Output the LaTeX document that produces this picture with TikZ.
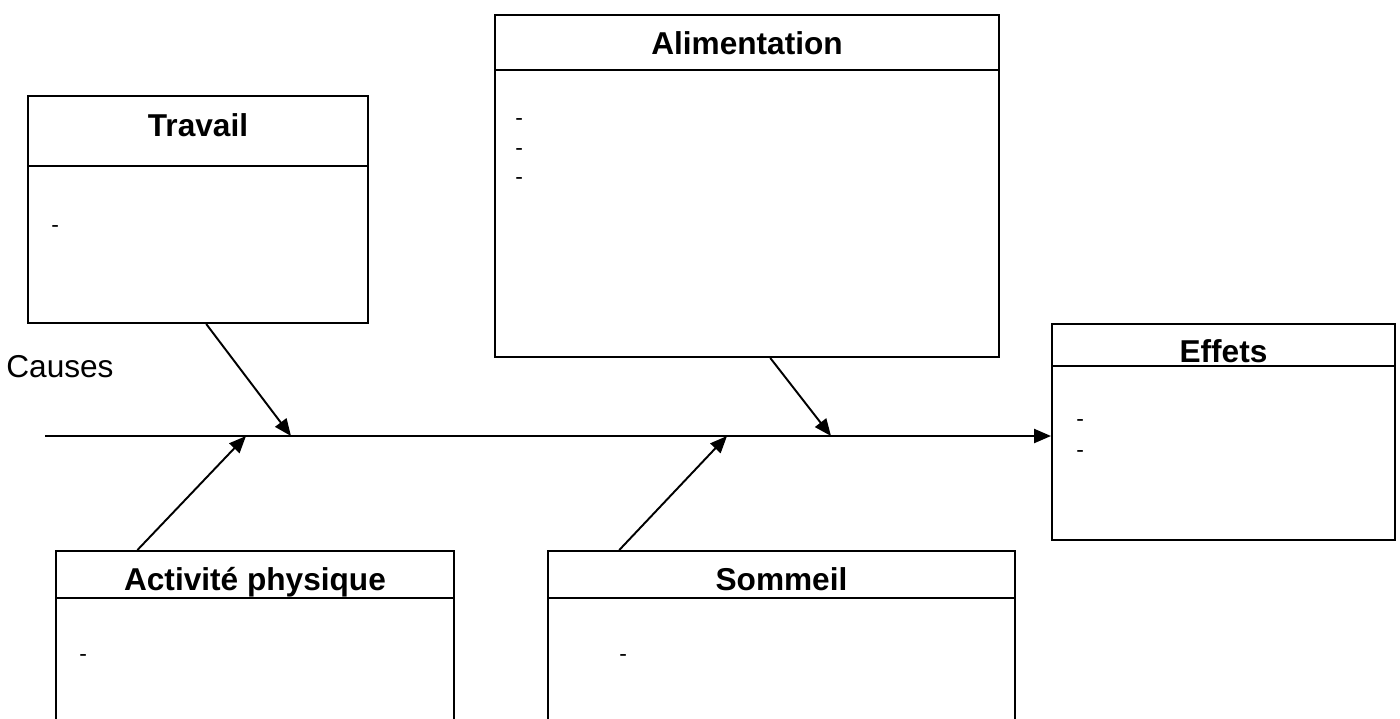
\documentclass[tikz,border=0pt]{standalone}
\usepackage{fontspec}
\setmainfont{Liberation Sans}
\usetikzlibrary{arrows.meta,fit,calc}

\begin{document}
\begin{tikzpicture}[x=0.02cm,y=-0.02cm,
        box/.style={draw, line width=1.1pt, inner sep=0pt},
        title/.style={anchor=base, inner sep=0pt, font=\fontsize{18}{21.6}\selectfont\bfseries},
        item/.style={anchor=base west, inner sep=0pt, font=\fontsize{13}{15.6}\selectfont},
        arr/.style={line width=1.1pt, -{Triangle[length=0.34cm,width=0.28cm]}}]
    \useasboundingbox (0,0) rectangle (1400,718);
    \clip (0,0) rectangle (1400,718);

    % the five boxes
    \node[box, fit={(28,96) (368,323)}] (trav) {};
    \node[box, fit={(495,15) (999,357)}] (alim) {};
    \node[box, fit={(1052,324) (1395,540)}] (effets) {};
    \node[box, fit={(56,551) (454,760)}] (act) {};
    \node[box, fit={(548,551) (1015,760)}] (somm) {};

    % headers
    \node[title] (travT) at ($(trav.north)+(0,41)$) {Travail};
    \node[title] (alimT) at ($(alim.north)+(0,40)$) {Alimentation};
    \node[title] (effetsT) at ($(effets.north)+(0,39)$) {Effets};
    \node[title] (actT) at ($(act.north)+(0,40)$) {Activité physique};
    \node[title] (sommT) at ($(somm.north)+(0,40)$) {Sommeil};
    \draw[line width=1.1pt] ($(trav.north west)+(0,71)$) -- ($(trav.north east)+(0,71)$);
    \draw[line width=1.1pt] ($(alim.north west)+(0,56)$) -- ($(alim.north east)+(0,56)$);
    \draw[line width=1.1pt] ($(effets.north west)+(0,43)$) -- ($(effets.north east)+(0,43)$);
    \draw[line width=1.1pt] ($(act.north west)+(0,48)$) -- ($(act.north east)+(0,48)$);
    \draw[line width=1.1pt] ($(somm.north west)+(0,48)$) -- ($(somm.north east)+(0,48)$);

    % items
    \node[item] (travD) at (51,232) {-};
    \foreach \y [count=\i] in {125,155,184}
        \node[item] (alimD\i) at (515,\y) {-};
    \node[item] (effetsD1) at (1076,426) {-};
    \node[item] (effetsD2) at (1076,457) {-};
    \node[item] (actD) at (79,661) {-};
    \node[item] (sommD) at (619,661) {-};

    % spine
    \node[anchor=base west, inner sep=0pt, font=\fontsize{18}{21.6}\selectfont] (causes) at (6,377) {Causes};
    \coordinate (tail) at (45,436);
    \coordinate (s1) at (246,436);
    \coordinate (s2) at (291,436);
    \coordinate (s3) at (727,436);
    \coordinate (s4) at (831,436);
    \draw[arr, line width=1.3pt] (tail) -- (effets.west |- tail);
    \draw[arr] ($(trav.south west)!0.524!(trav.south east)$) -- (s2);
    \draw[arr] ($(alim.south west)!0.546!(alim.south east)$) -- (s4);
    \draw[arr] ($(act.north west)!0.206!(act.north east)$) -- (s1);
    \draw[arr] ($(somm.north west)!0.154!(somm.north east)$) -- (s3);
\end{tikzpicture}
\end{document}
